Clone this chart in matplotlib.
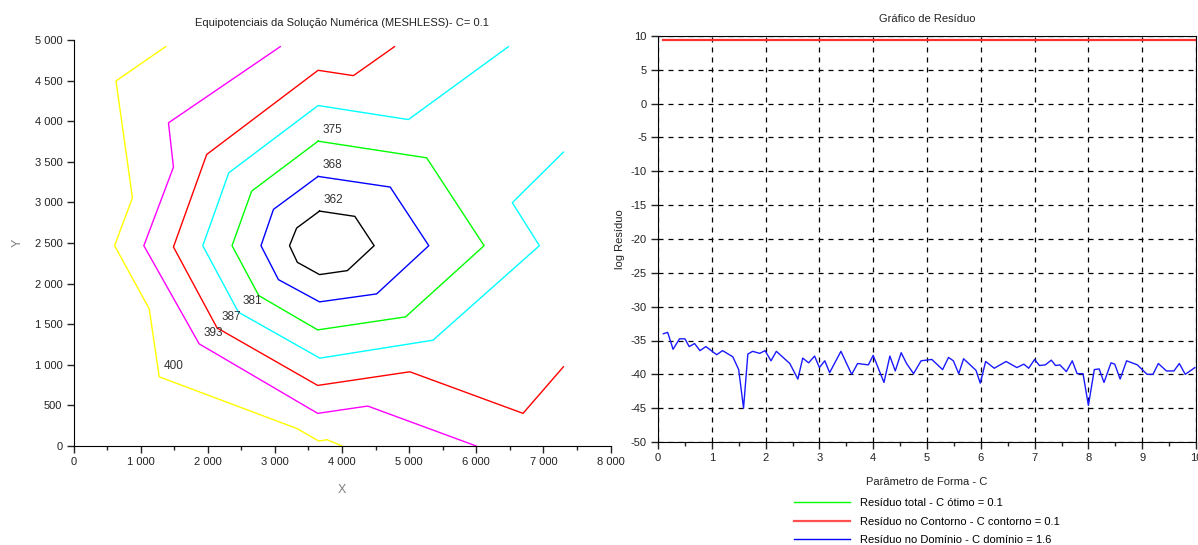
import matplotlib
matplotlib.use("Agg")
import matplotlib.pyplot as plt
from matplotlib.ticker import FuncFormatter, MultipleLocator
from matplotlib.lines import Line2D

plt.rcParams['font.family'] = ['Liberation Sans', 'DejaVu Sans']
plt.rcParams['font.size'] = 8
plt.rcParams['axes.unicode_minus'] = False

# ---- Equipotential lines (MESHLESS solution, C = 0.1) ----
levels = [400, 393, 387, 381, 375, 368, 362]
level_colors = ['#ffff00', '#ff00ff', '#ff0000', '#00ffff', '#00ff00', '#0000ff', '#000000']

x_400 = [1372, 633, 878, 612, 1128, 1277, 3335, 3654, 3777, 4000]
y_400 = [4918, 4496, 3057, 2467, 1689, 852, 213, 61, 78, 0]

x_393 = [3080, 1415, 1489, 1048, 1872, 3638, 4383, 6000]
y_393 = [4918, 3980, 3434, 2467, 1258, 402, 492, 0]

x_387 = [4782, 4170, 3644, 1984, 1489, 2138, 3638, 5011, 6697, 7298]
y_387 = [4918, 4561, 4627, 3590, 2451, 1455, 746, 914, 402, 975]

x_381 = [6479, 4989, 3644, 2314, 1926, 2457, 3670, 5356, 6941, 6537, 7298]
y_381 = [4918, 4020, 4193, 3365, 2467, 1648, 1082, 1303, 2467, 2996, 3619]

x_375 = [3644, 5261, 6117, 4947, 3638, 2761, 2362, 2654, 3644]
y_375 = [3754, 3549, 2467, 1590, 1430, 1852, 2467, 3139, 3754]

x_368 = [3644, 4718, 5293, 4516, 3665, 3053, 2793, 2979, 3644]
y_368 = [3320, 3189, 2467, 1873, 1775, 2049, 2467, 2914, 3320]

x_362 = [3665, 4191, 4479, 4080, 3665, 3335, 3218, 3324, 3665]
y_362 = [2893, 2828, 2467, 2160, 2111, 2262, 2467, 2684, 2893]

contour_x = [x_400, x_393, x_387, x_381, x_375, x_368, x_362]
contour_y = [y_400, y_393, y_387, y_381, y_375, y_368, y_362]
# vertex next to which each level value is written
label_vertex = [5, 4, 5, 5, 0, 0, 0]

# ---- Residual vs shape parameter C ----
c_dom = [0.10, 0.18, 0.28, 0.40, 0.50, 0.58, 0.68, 0.78, 0.89, 0.99,
         1.09, 1.20, 1.39, 1.50, 1.59, 1.67, 1.76, 1.89, 1.99, 2.10,
         2.20, 2.45, 2.60, 2.69, 2.80, 2.91, 3.00, 3.10, 3.19, 3.40,
         3.60, 3.71, 3.91, 4.00, 4.20, 4.31, 4.41, 4.52, 4.62, 4.75,
         4.89, 5.09, 5.29, 5.40, 5.49, 5.59, 5.68, 5.91, 5.99, 6.09,
         6.25, 6.47, 6.67, 6.80, 6.89, 7.00, 7.09, 7.20, 7.31, 7.39,
         7.47, 7.59, 7.70, 7.79, 7.90, 8.00, 8.11, 8.20, 8.29, 8.42,
         8.49, 8.59, 8.71, 8.91, 9.09, 9.20, 9.30, 9.45, 9.59, 9.69,
         9.80, 9.98]
res_dom = [-34.0, -33.8, -36.3, -34.75, -34.75, -35.9, -35.45, -36.5, -35.9, -36.5,
           -37.1, -36.5, -37.4, -39.3, -45.0, -37.0, -36.6, -36.9, -36.5, -38.0,
           -36.6, -38.4, -40.7, -37.6, -38.3, -37.3, -39.0, -38.0, -39.75, -36.6,
           -40.0, -38.4, -38.6, -37.2, -41.2, -37.3, -39.5, -36.8, -38.4, -39.9,
           -38.0, -37.8, -39.3, -37.5, -38.0, -39.9, -37.7, -39.4, -41.3, -38.1,
           -39.1, -38.1, -39.0, -38.5, -39.1, -37.8, -38.7, -38.6, -37.9, -38.7,
           -38.6, -39.6, -38.0, -39.9, -39.9, -44.6, -39.3, -39.2, -41.2, -38.3,
           -38.5, -40.7, -38.0, -38.6, -40.0, -40.0, -38.4, -39.5, -39.5, -38.4,
           -40.0, -39.0]

c_cont = [0.1, 10.0]
res_cont = [9.42, 9.42]

c_total = []
res_total = []

legend_labels = ['Resíduo total - C ótimo = 0.1',
                 'Resíduo no Contorno - C contorno = 0.1',
                 'Resíduo no Domínio - C domínio = 1.6']

W, H = 1198, 545
fig = plt.figure(figsize=(W / 100, H / 100), dpi=100)

# ---------------- left panel ----------------
ax1 = fig.add_axes([73.5 / W, 1 - 446 / H, 537 / W, 406 / H])
for xs, ys, col, lev, iv in zip(contour_x, contour_y, level_colors, levels, label_vertex):
    ax1.plot(xs, ys, color=col, lw=1.0)
    ax1.annotate(str(lev), (xs[iv], ys[iv]), xytext=(14, 11),
                 textcoords='offset pixels', ha='center', va='center',
                 fontsize=8.5, color='#333333')

ax1.set_xlim(0, 8000)
ax1.set_ylim(0, 5000)
ax1.xaxis.set_major_locator(MultipleLocator(1000))
ax1.xaxis.set_minor_locator(MultipleLocator(500))
ax1.yaxis.set_major_locator(MultipleLocator(500))
thousands = FuncFormatter(lambda v, p: f"{int(v):,}".replace(',', ' '))
ax1.xaxis.set_major_formatter(thousands)
ax1.yaxis.set_major_formatter(thousands)
for s in ('top', 'right'):
    ax1.spines[s].set_visible(False)
ax1.tick_params(which='major', length=5, width=1, color='#222222', labelcolor='#222222', pad=3)
ax1.tick_params(which='minor', length=3, width=1, color='#222222')
ax1.set_xlabel('X', color='#808080', fontsize=9, labelpad=12)
ax1.set_ylabel('Y', color='#808080', fontsize=9, labelpad=8)
ax1.set_title('Equipotenciais da Solução Numérica (MESHLESS)- C= 0.1',
              fontsize=8, color='#222222', pad=10)

# ---------------- right panel ----------------
ax2 = fig.add_axes([658 / W, 1 - 442 / H, 538 / W, 406 / H])
l_tot, = ax2.plot(c_total, res_total, color='#00ff00', lw=1.0)
l_con, = ax2.plot(c_cont, res_cont, color='#ff3030', lw=1.6)
l_dom, = ax2.plot(c_dom, res_dom, color='#1a1aff', lw=1.0)

ax2.set_xlim(0, 10)
ax2.set_ylim(-50, 10)
ax2.xaxis.set_major_locator(MultipleLocator(1))
ax2.xaxis.set_minor_locator(MultipleLocator(0.5))
ax2.yaxis.set_major_locator(MultipleLocator(5))
ax2.grid(True, which='major', color='black', ls=(0, (4, 4)), lw=0.9)
ax2.tick_params(which='major', length=5, width=1, color='#222222', labelcolor='#222222', pad=3)
ax2.tick_params(which='minor', length=3, width=1, color='#222222')
ax2.set_xlabel('Parâmetro de Forma - C', fontsize=8, color='#222222', labelpad=10)
ax2.set_ylabel('log Resíduo', fontsize=8, color='#222222', labelpad=4)
ax2.set_title('Gráfico de Resíduo', fontsize=8, color='#222222', pad=10)

ax2.legend([Line2D([], [], color='#00ff00', lw=1.0),
            Line2D([], [], color='#ff5050', lw=1.6),
            Line2D([], [], color='#0000ff', lw=1.0)],
           legend_labels, loc='upper center', bbox_to_anchor=(0.5, -0.125),
           frameon=False, handlelength=5, labelspacing=0.75, fontsize=8,
           handletextpad=0.9, borderpad=0)

fig.savefig('out.png', dpi=100)
